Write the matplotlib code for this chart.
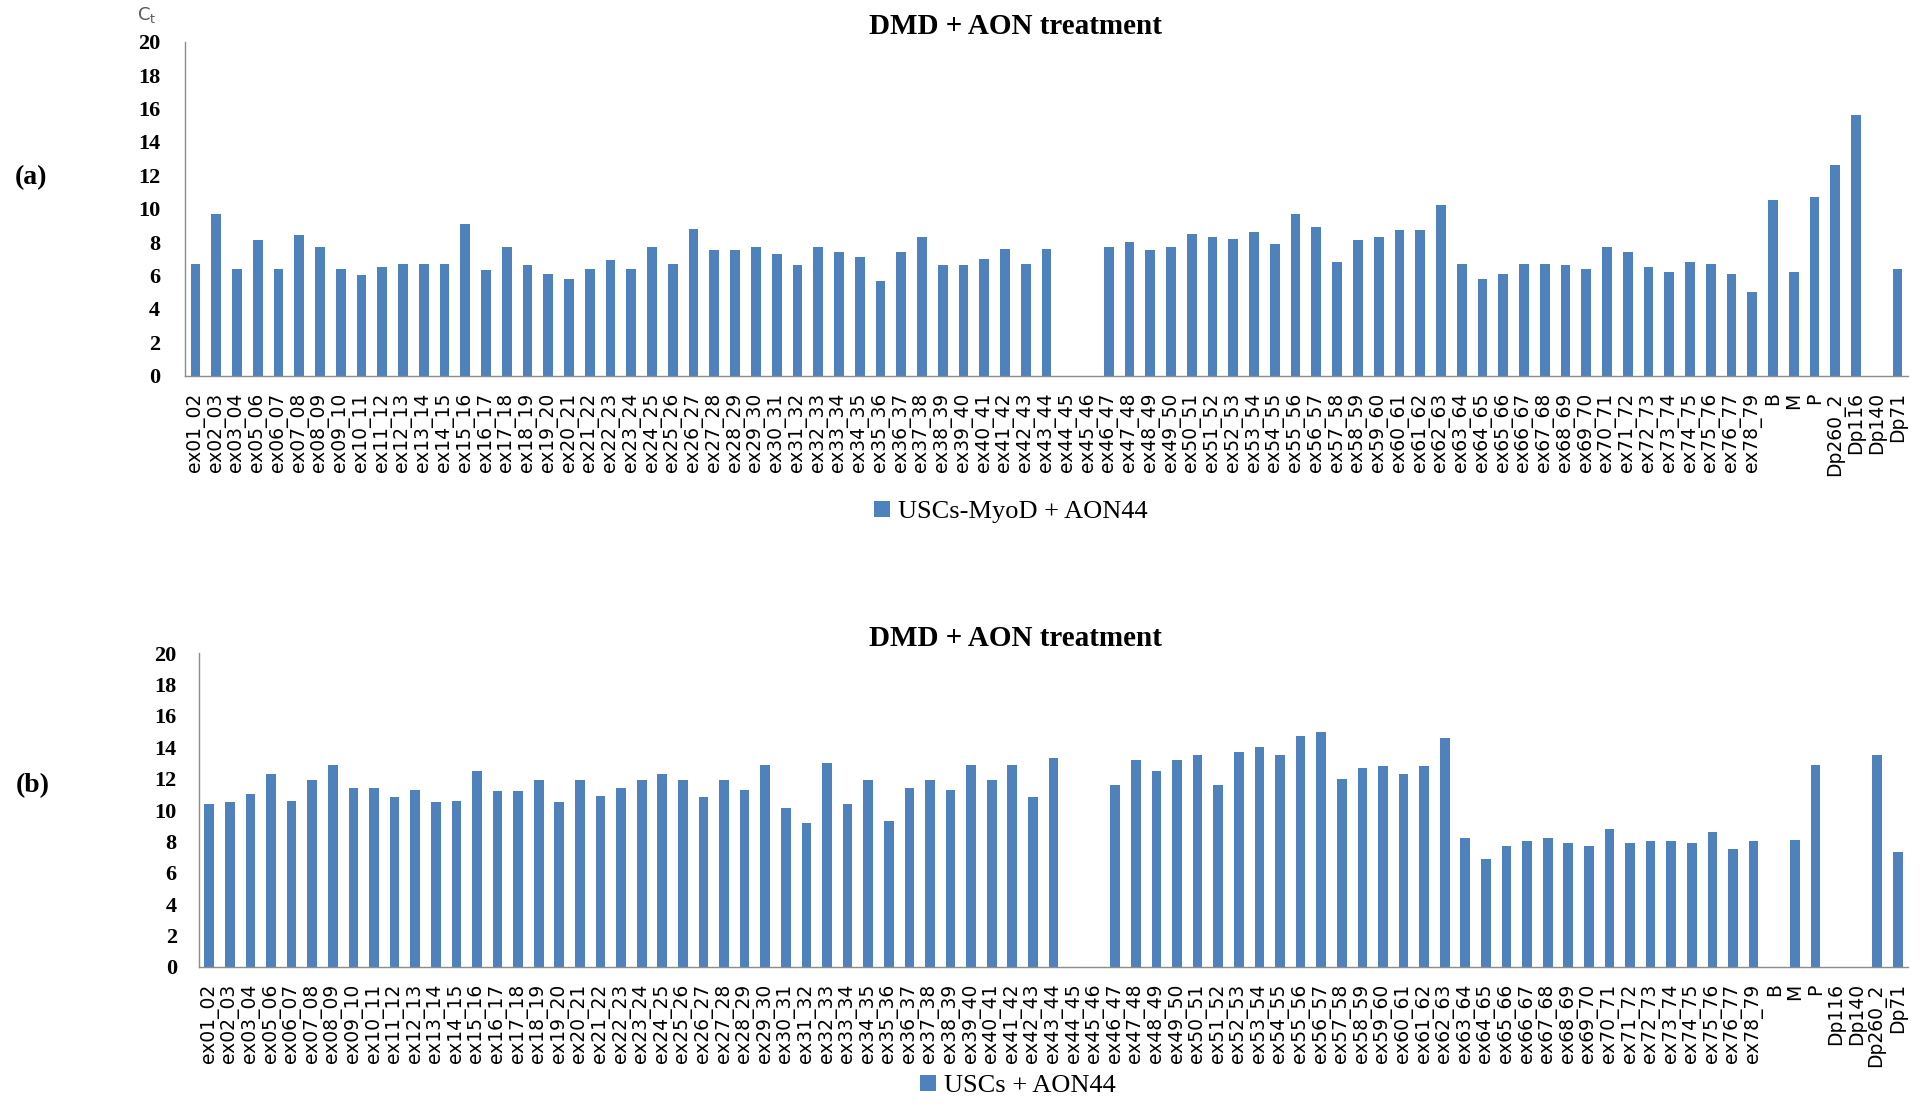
import matplotlib
matplotlib.use("Agg")
import matplotlib.pyplot as plt
import numpy as np

# exon junction labels shared by both panels
exons = ["ex01_02", "ex02_03", "ex03_04", "ex05_06", "ex06_07", "ex07_08", "ex08_09",
         "ex09_10", "ex10_11", "ex11_12", "ex12_13", "ex13_14", "ex14_15", "ex15_16",
         "ex16_17", "ex17_18", "ex18_19", "ex19_20", "ex20_21", "ex21_22", "ex22_23",
         "ex23_24", "ex24_25", "ex25_26", "ex26_27", "ex27_28", "ex28_29", "ex29_30",
         "ex30_31", "ex31_32", "ex32_33", "ex33_34", "ex34_35", "ex35_36", "ex36_37",
         "ex37_38", "ex38_39", "ex39_40", "ex40_41", "ex41_42", "ex42_43", "ex43_44",
         "ex44_45", "ex45_46", "ex46_47", "ex47_48", "ex48_49", "ex49_50", "ex50_51",
         "ex51_52", "ex52_53", "ex53_54", "ex54_55", "ex55_56", "ex56_57", "ex57_58",
         "ex58_59", "ex59_60", "ex60_61", "ex61_62", "ex62_63", "ex63_64", "ex64_65",
         "ex65_66", "ex66_67", "ex67_68", "ex68_69", "ex69_70", "ex70_71", "ex71_72",
         "ex72_73", "ex73_74", "ex74_75", "ex75_76", "ex76_77", "ex78_79"]
tail_a = ["B", "M", "P", "Dp260_2", "Dp116", "Dp140", "Dp71"]
tail_b = ["B", "M", "P", "Dp116", "Dp140", "Dp260_2", "Dp71"]

nan = np.nan
# (a) USCs-MyoD + AON44, Ct values
ct_a_exons = [6.7, 9.7, 6.4, 8.1, 6.4, 8.4, 7.7, 6.4, 6.0, 6.5, 6.7, 6.7, 6.7, 9.1,
              6.3, 7.7, 6.6, 6.1, 5.8, 6.4, 6.9, 6.4, 7.7, 6.7, 8.8, 7.5, 7.5, 7.7,
              7.3, 6.6, 7.7, 7.4, 7.1, 5.7, 7.4, 8.3, 6.6, 6.6, 7.0, 7.6, 6.7, 7.6,
              nan, nan, 7.7, 8.0, 7.5, 7.7, 8.5, 8.3, 8.2, 8.6, 7.9, 9.7, 8.9, 6.8,
              8.1, 8.3, 8.7, 8.7, 10.2, 6.7, 5.8, 6.1, 6.7, 6.7, 6.6, 6.4, 7.7, 7.4,
              6.5, 6.2, 6.8, 6.7, 6.1, 5.0]
ct_a_tail = [10.5, 6.2, 10.7, 12.6, 15.6, nan, 6.4]

# (b) USCs + AON44, Ct values
ct_b_exons = [10.4, 10.5, 11.0, 12.3, 10.6, 11.9, 12.9, 11.4, 11.4, 10.8, 11.3, 10.5,
              10.6, 12.5, 11.2, 11.2, 11.9, 10.5, 11.9, 10.9, 11.4, 11.9, 12.3, 11.9,
              10.8, 11.9, 11.3, 12.9, 10.1, 9.2, 13.0, 10.4, 11.9, 9.3, 11.4, 11.9,
              11.3, 12.9, 11.9, 12.9, 10.8, 13.3, nan, nan, 11.6, 13.2, 12.5, 13.2,
              13.5, 11.6, 13.7, 14.0, 13.5, 14.7, 15.0, 12.0, 12.7, 12.8, 12.3, 12.8,
              14.6, 8.2, 6.9, 7.7, 8.0, 8.2, 7.9, 7.7, 8.8, 7.9, 8.0, 8.0, 7.9, 8.6,
              7.5, 8.0]
ct_b_tail = [nan, 8.1, 12.9, nan, nan, 13.5, 7.3]

W, H = 1923, 1104
BLUE = "#4F81BD"
SERIF = "Liberation Serif"

fig = plt.figure(figsize=(W / 100, H / 100), dpi=100)


def px_axes(left, right, top, bottom):
    return fig.add_axes([left / W, 1 - bottom / H, (right - left) / W, (bottom - top) / H])


def draw_panel(ax, cats, vals, ypad):
    x = np.arange(len(cats))
    bars = ax.bar(x, vals, width=0.47, color=BLUE)
    ax.set_xlim(-0.5, len(cats) - 0.5)
    ax.set_ylim(0, 20)
    ax.set_yticks(np.arange(0, 21, 2))
    ax.set_xticks(x)
    ax.set_xticklabels(cats, rotation=90, fontsize=13.5, family="DejaVu Sans")
    for lab in ax.get_yticklabels():
        lab.set_family(SERIF)
        lab.set_fontsize(16)
        lab.set_fontweight("bold")
    ax.tick_params(axis="y", length=0, pad=ypad)
    ax.tick_params(axis="x", length=0, pad=12)
    for s in ["top", "right"]:
        ax.spines[s].set_visible(False)
    for s in ["left", "bottom"]:
        ax.spines[s].set_color("#8c8c8c")
        ax.spines[s].set_linewidth(1.0)
    return bars


ax_a = px_axes(185, 1908, 41.7, 375.7)
bars_a = draw_panel(ax_a, exons + tail_a, ct_a_exons + ct_a_tail, 18)

ax_b = px_axes(199, 1908, 653.3, 966.7)
bars_b = draw_panel(ax_b, exons + tail_b, ct_b_exons + ct_b_tail, 16)

# titles and panel letters
fig.text(1015 / W, 1 - 26 / H, "DMD + AON treatment", ha="center", va="center",
         family=SERIF, fontweight="bold", fontsize=21)
fig.text(1015 / W, 1 - 639 / H, "DMD + AON treatment", ha="center", va="center",
         family=SERIF, fontweight="bold", fontsize=21)
fig.text(31 / W, 1 - 178 / H, "(a)", ha="center", va="center",
         family=SERIF, fontweight="bold", fontsize=20)
fig.text(33 / W, 1 - 786 / H, "(b)", ha="center", va="center",
         family=SERIF, fontweight="bold", fontsize=20)
fig.text(147 / W, 1 - 15 / H, r"C$_\mathregular{t}$", ha="center", va="center",
         color="#595959", fontsize=13)

# legends below each panel
fig.legend([bars_a], ["USCs-MyoD + AON44"], loc="center",
           bbox_to_anchor=(1011 / W, 1 - 512 / H), frameon=False,
           prop={"family": SERIF, "size": 19}, handlelength=0.6, handleheight=0.6,
           handletextpad=0.3)
fig.legend([bars_b], ["USCs + AON44"], loc="center",
           bbox_to_anchor=(1018 / W, 1 - 1086 / H), frameon=False,
           prop={"family": SERIF, "size": 19}, handlelength=0.6, handleheight=0.6,
           handletextpad=0.3)

fig.savefig("out.png", dpi=100)
